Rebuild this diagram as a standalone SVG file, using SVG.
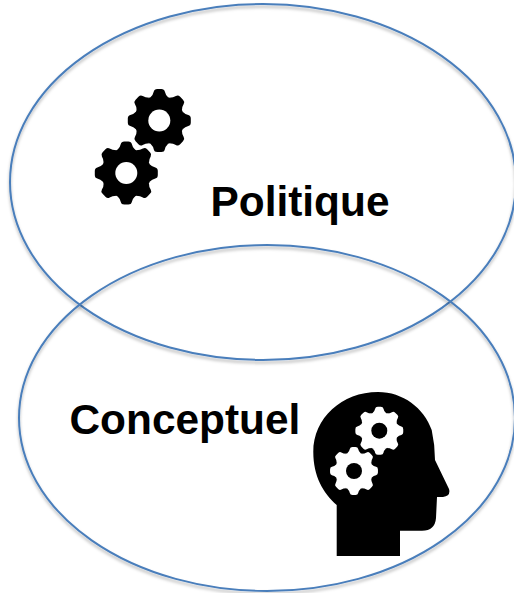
<svg xmlns="http://www.w3.org/2000/svg" xmlns:xlink="http://www.w3.org/1999/xlink" width="514" height="593" viewBox="0 0 514 593">
<style>
.oval{fill:none;stroke:#4a7ebb;stroke-width:2;filter:url(#sh)}
.lbl{font-family:"Liberation Sans",Arial,sans-serif;font-weight:700;font-size:42.4px;fill:#000}
</style>
<defs>
<filter id="sh" x="-5%" y="-5%" width="110%" height="112%">
<feDropShadow dx="0" dy="2.5" stdDeviation="1.6" flood-color="#000" flood-opacity="0.3"/>
</filter>
<path id="t" d="M-9,-23 Q-6,-26 -5.5,-29 Q-5,-31.5 -2,-31.5 L2,-31.5 Q5,-31.5 5.5,-29 Q6,-26 9,-23 Z"/>
<g id="gear">
<circle r="25"/>
<use xlink:href="#t"/>
<use xlink:href="#t" transform="rotate(45)"/>
<use xlink:href="#t" transform="rotate(90)"/>
<use xlink:href="#t" transform="rotate(135)"/>
<use xlink:href="#t" transform="rotate(180)"/>
<use xlink:href="#t" transform="rotate(225)"/>
<use xlink:href="#t" transform="rotate(270)"/>
<use xlink:href="#t" transform="rotate(315)"/>
</g>
</defs>
<rect width="514" height="593" fill="#fff"/>
<g id="connectors"/>
<g id="node-politique">
<ellipse class="oval" cx="263" cy="182" rx="253" ry="178"/>
<text class="lbl" x="210.5" y="216">Politique</text>
</g>
<g id="node-conceptuel">
<ellipse class="oval" cx="267" cy="418" rx="248" ry="173"/>
<text class="lbl" x="69.5" y="434">Conceptuel</text>
</g>
<g id="icon-gears">
<use xlink:href="#gear" x="159.3" y="120.5" fill="#000"/>
<circle cx="159.3" cy="120.5" r="11" fill="#fff"/>
<use xlink:href="#gear" x="126.3" y="173" fill="#000"/>
<circle cx="126.3" cy="173" r="11" fill="#fff"/>
</g>
<g id="icon-head">
<path fill="#000" d="M336.7,556 L400,556 L400,530.7 L422,530.7 Q435,530.7 436,518 L437,497 L443,497 Q451,496 449,489 L435,460 Q435,445 431.7,430 C424,408 403,392 378,392 C342,392 313.3,418 313.3,452 C313.3,476 323,493 336.7,505 Z"/>
<g fill="#fff">
<use xlink:href="#gear" transform="translate(379.3,430.7) scale(.76)"/>
<use xlink:href="#gear" transform="translate(354,471) scale(.76)"/>
</g>
<circle cx="379.3" cy="430.7" r="8" fill="#000"/>
<circle cx="354" cy="471" r="8" fill="#000"/>
</g>
</svg>
